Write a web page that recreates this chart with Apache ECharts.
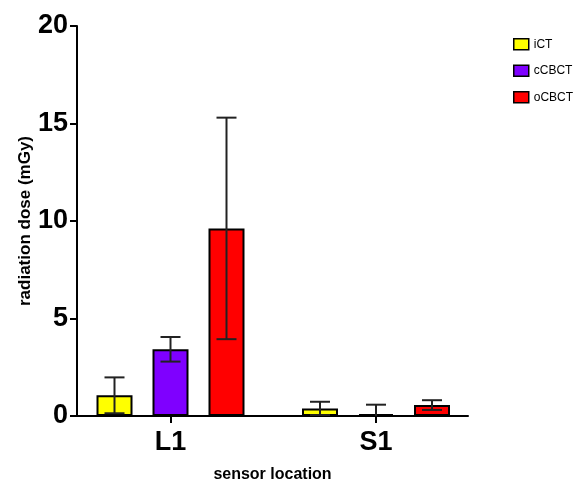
<!DOCTYPE html>
<html>
<head>
<meta charset="utf-8">
<script src="https://cdn.jsdelivr.net/npm/echarts@6/dist/echarts.min.js"></script>
<style>html,body{margin:0;padding:0;background:#fff}#c{width:586px;height:483px}</style>
</head>
<body>
<div id="c"></div>
<script>
const categories = ['L1', 'S1'];
const seriesNames = ['iCT', 'cCBCT', 'oCBCT'];
const iCT = [1.06, 0.39];
const iCTErr = [0.92, 0.34];
const cCBCT = [3.42, 0.08];
const cCBCTErr = [0.63, 0.5];
const oCBCT = [9.62, 0.56];
const oCBCTErr = [5.68, 0.25];
const yTicks = [0, 5, 10, 15, 20];

const colors = ['#FFFF00', '#7F00FF', '#FF0000'];
const means = [iCT, cCBCT, oCBCT];
const errs = [iCTErr, cCBCTErr, oCBCTErr];
const BAR_W = 36, BAR_GAP = 20, CAP = 20;
const FONT = 'Liberation Sans, Arial, sans-serif';

const chart = echarts.init(document.getElementById('c'), null, {renderer: 'canvas'});

const series = [];
seriesNames.forEach((name, si) => {
  series.push({
    name: name,
    type: 'bar',
    xAxisIndex: 1, yAxisIndex: 1,
    data: means[si],
    barWidth: BAR_W,
    barGap: (BAR_GAP / BAR_W * 100) + '%',
    barMinHeight: 2,
    itemStyle: {color: colors[si], borderColor: '#000', borderWidth: 2},
    z: 2
  });
});
seriesNames.forEach((name, si) => {
  series.push({
    type: 'custom',
    xAxisIndex: 1, yAxisIndex: 1,
    z: 5,
    silent: true,
    data: categories.map((c, i) => [i, means[si][i] - errs[si][i], means[si][i] + errs[si][i]]),
    encode: {x: 0, y: [1, 2]},
    renderItem: function (params, api) {
      const idx = api.value(0);
      const off = (si - 1) * (BAR_W + BAR_GAP);
      const x = api.coord([idx, 0])[0] + off;
      const yLo = api.coord([idx, Math.max(api.value(1), 0)])[1];
      const yHi = api.coord([idx, api.value(2)])[1];
      const st = {stroke: '#222', lineWidth: 2};
      const children = [
        {type: 'line', shape: {x1: x, y1: yLo, x2: x, y2: yHi}, style: st},
        {type: 'line', shape: {x1: x - CAP / 2, y1: yHi, x2: x + CAP / 2, y2: yHi}, style: st}
      ];
      if (api.value(1) > 0) {
        children.push({type: 'line', shape: {x1: x - CAP / 2, y1: yLo, x2: x + CAP / 2, y2: yLo}, style: st});
      }
      return {type: 'group', children: children};
    }
  });
});

chart.setOption({
  animation: false,
  backgroundColor: '#fff',
  legend: {
    data: seriesNames,
    orient: 'vertical',
    left: 508, top: 33,
    icon: 'rect',
    itemWidth: 15, itemHeight: 11, itemGap: 14,
    itemStyle: {borderColor: '#000', borderWidth: 1.5},
    textStyle: {fontFamily: FONT, fontSize: 12, color: '#000', padding: [0, 0, 0, 0]}
  },
  grid: [
    {left: 77, right: 118, top: 26, bottom: 67, outerBoundsMode: 'none', containLabel: false},
    {left: 67.75, right: 107.25, top: 26, bottom: 67, outerBoundsMode: 'none', containLabel: false}
  ],
  xAxis: [
    {
      type: 'category', gridIndex: 0, data: categories,
      axisLine: {lineStyle: {color: '#000', width: 2}},
      axisTick: {show: false}, axisLabel: {show: false},
      name: 'sensor location', nameLocation: 'middle', nameGap: 51, nameMoveOverlap: false,
      nameTextStyle: {fontFamily: FONT, fontSize: 16, fontWeight: 'bold', color: '#000'}
    },
    {
      type: 'category', gridIndex: 1, data: categories,
      axisLine: {show: false},
      axisTick: {show: true, alignWithLabel: true, length: 7, lineStyle: {color: '#000', width: 2}},
      axisLabel: {fontFamily: FONT, fontSize: 27, fontWeight: 'bold', color: '#000', margin: 13}
    }
  ],
  yAxis: [
    {
      type: 'value', gridIndex: 0, min: 0, max: 20, interval: 5,
      axisLine: {show: true, lineStyle: {color: '#000', width: 2}},
      axisTick: {show: true, length: 7, lineStyle: {color: '#000', width: 2}},
      splitLine: {show: false},
      axisLabel: {fontFamily: FONT, fontSize: 27, fontWeight: 'bold', color: '#000', margin: 9,
        formatter: v => yTicks.includes(v) ? String(v) : ''},
      name: 'radiation dose (mGy)', nameLocation: 'middle', nameGap: 43, nameMoveOverlap: false,
      nameTextStyle: {fontFamily: FONT, fontSize: 17, fontWeight: 'bold', color: '#000'}
    },
    {
      type: 'value', gridIndex: 1, min: 0, max: 20, interval: 5, show: false
    }
  ],
  series: series
});
</script>
</body>
</html>
